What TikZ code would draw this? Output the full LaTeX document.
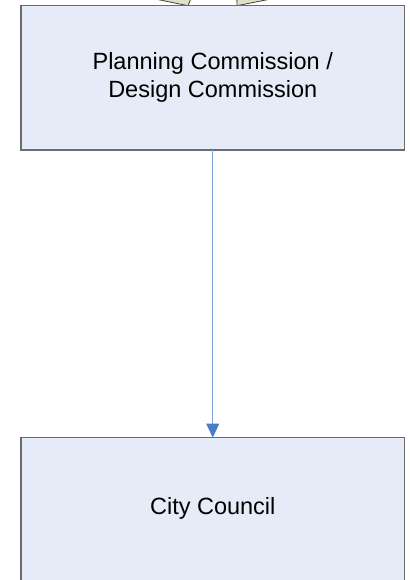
\documentclass[tikz,border=0pt]{standalone}
\usepackage{fontspec}
\setmainfont{Liberation Sans}
\usetikzlibrary{arrows.meta}
\definecolor{boxfill}{HTML}{E6ECF7}
\definecolor{boxline}{HTML}{6B6B6B}
\definecolor{tipfill}{HTML}{DDE2C6}
\definecolor{arrline}{HTML}{7FA2DA}
\definecolor{arrhead}{HTML}{4A7CC9}
\begin{document}
\begin{tikzpicture}[x=1pt,y=1pt,
  boxnode/.style={draw=boxline, line width=1.4pt, fill=boxfill, minimum width=383.5pt, inner sep=0pt, outer sep=0pt},
  txt/.style={font=\fontsize{23.5}{28}\selectfont, align=center},
  tipshape/.style={fill=tipfill, draw=black!75, line width=0.8pt},
  conn/.style={draw=arrline, line width=1pt, -{Triangle[length=14pt,width=13pt,color=arrhead]}}]
\useasboundingbox (0,0) rectangle (409,-580);
\clip (0,0) rectangle (409,-580);
\fill[white] (0,0) rectangle (409,-580);
% cut-off tips of incoming block arrows
\draw[tipshape] (140,4.1) -- (188,-5.7) -- (191.6,3) -- cycle;
\draw[tipshape] (236.8,3) -- (237,-5.7) -- (287,4.2) -- cycle;
% boxes
\node[boxnode, minimum height=144.5pt, txt] (pc) at (212.75,-77.75) {Planning Commission /\\Design Commission};
\node[boxnode, minimum height=170pt, anchor=north] (cc) at (212.75,-437.5) {};
\node[txt] (cctext) at (212.75,-508) {City Council};
\draw[conn] (pc.south) -- (cc.north);
\end{tikzpicture}
\end{document}
